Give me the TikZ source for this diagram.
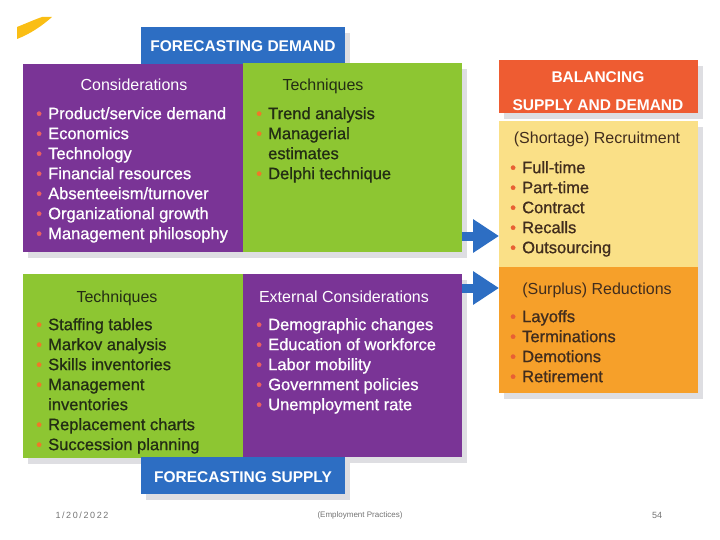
\documentclass[tikz,border=0pt]{standalone}
\usepackage{fontspec}
\setmainfont{Liberation Sans}
\newfontfamily\medfont{Liberation Sans}[FakeBold=0.9]
\usetikzlibrary{shadows,arrows.meta}
\definecolor{fcblue}{RGB}{45,110,195}
\definecolor{fcpurple}{RGB}{122,52,150}
\definecolor{fcgreen}{RGB}{141,198,50}
\definecolor{fcred}{RGB}{238,92,50}
\definecolor{fcyellow}{RGB}{250,224,135}
\definecolor{fcorange}{RGB}{246,160,42}
\definecolor{fcswoosh}{RGB}{250,190,20}
\definecolor{dotpink}{RGB}{232,95,100}
\definecolor{dotorange}{RGB}{240,120,40}
\definecolor{dotred}{RGB}{232,96,52}
\definecolor{darktext}{RGB}{35,45,20}
\definecolor{browntext}{RGB}{65,45,30}
\definecolor{footgray}{RGB}{115,115,115}
\definecolor{shade}{RGB}{222,222,226}
\newcommand{\pitm}{\makebox[12pt][l]{\textcolor{dotpink}{•}}}
\newcommand{\oitm}{\makebox[12pt][l]{\textcolor{dotorange}{•}}}
\newcommand{\ritm}{\makebox[12pt][l]{\textcolor{dotred}{•}}}
\newcommand{\cnt}{\hspace*{12pt}}
\begin{document}
\begin{tikzpicture}[x=1pt,y=-1pt,
  box/.style={rectangle,anchor=north west,outer sep=0pt,drop shadow={shadow xshift=5pt,shadow yshift=-6pt,fill=shade,opacity=1}},
  head/.style={anchor=base,font=\fontsize{16}{20}\selectfont},
  title/.style={anchor=base,text=white,font=\bfseries\fontsize{15.5}{20}\selectfont},
  items/.style={anchor=north west,align=left,font=\medfont\fontsize{16.5}{20}\selectfont},
  flow/.style={fcblue,line width=9pt,-{Triangle[length=26pt,width=32pt]}},
  foot/.style={text=footgray,font=\fontsize{8}{9}\selectfont}]
\tikzstyle{every node}+=[inner sep=0pt]
\useasboundingbox (0,0) rectangle (720,540);
\fill [fcswoosh] (17,27) .. controls (27,23) and (36,19) .. (42,17) -- (52,17) .. controls (42,26) and (30,34) .. (17,39) -- cycle;
\node [box,fill=fcblue,minimum width=204pt,minimum height=37pt] (demand) at (141,27) {};
\node [box,fill=fcpurple,minimum width=220pt,minimum height=188pt] (dcons) at (23,64) {};
\node [box,fill=fcgreen,minimum width=219pt,minimum height=189pt] (dtech) at (243,63) {};
\node [box,fill=fcgreen,minimum width=220pt,minimum height=184pt] (stech) at (23,274) {};
\node [box,fill=fcpurple,minimum width=219pt,minimum height=183pt] (sext) at (243,274) {};
\node [box,fill=fcblue,minimum width=204pt,minimum height=37pt] (supply) at (141,457) {};
\node [box,fill=fcred,minimum width=199pt,minimum height=53pt] (balance) at (499,60) {};
\node [box,fill=fcyellow,minimum width=199pt,minimum height=146pt] (recruit) at (499,121) {};
\node [box,fill=fcorange,minimum width=199pt,minimum height=126pt] (reduce) at (499,267) {};
\node [title] (demandtxt) at (243,51.5) {FORECASTING DEMAND};
\node [title] (supplytxt) at (243,482.5) {FORECASTING SUPPLY};
\node [title] (baltxt) at (598,82.5) {BALANCING};
\node [title] (baltxtb) at (598,110.5) {SUPPLY AND DEMAND};
\node [head,text=white] (dconshd) at (134,91) {Considerations};
\node [head,text=darktext] (dtechhd) at (323,91) {Techniques};
\node [head,text=browntext] (recruithd) at (597,144) {(Shortage) Recruitment};
\node [head,text=browntext] (reducehd) at (597,294) {(Surplus) Reductions};
\node [head,text=darktext] (stechhd) at (117,302) {Techniques};
\node [head,text=white] (sexthd) at (344,302) {External Considerations};
\node [items,text=white] (dconsls) at (36,107) {\pitm Product/service demand\\ \pitm Economics\\ \pitm Technology\\ \pitm Financial resources\\ \pitm Absenteeism/turnover\\ \pitm Organizational growth\\ \pitm Management philosophy};
\node [items,text=darktext] (dtechls) at (256,107) {\oitm Trend analysis\\ \oitm Managerial\\ \cnt estimates\\ \oitm Delphi technique};
\node [items,text=browntext] (recruitls) at (510,161) {\ritm Full-time\\ \ritm Part-time\\ \ritm Contract\\ \ritm Recalls\\ \ritm Outsourcing};
\node [items,text=browntext] (reducels) at (510,310) {\ritm Layoffs\\ \ritm Terminations\\ \ritm Demotions\\ \ritm Retirement};
\node [items,text=darktext] (stechls) at (36,318) {\oitm Staffing tables\\ \oitm Markov analysis\\ \oitm Skills inventories\\ \oitm Management\\ \cnt inventories\\ \oitm Replacement charts\\ \oitm Succession planning};
\node [items,text=white] (sextls) at (256,318) {\pitm Demographic changes\\ \pitm Education of workforce\\ \pitm Labor mobility\\ \pitm Government policies\\ \pitm Unemployment rate};
\coordinate (up) at (0,236);
\coordinate (down) at (0,288);
\draw [flow] (dtech.east |- up) -- (recruit.west |- up);
\draw [flow] (sext.east |- down) -- (reduce.west |- down);
\node [foot,font=\addfontfeatures{LetterSpace=18}\fontsize{9}{10}\selectfont] (date) at (82,515) {1/20/2022};
\node [foot] (topic) at (360,515) {(Employment Practices)};
\node [foot,font=\fontsize{9}{10}\selectfont] (page) at (657,515) {54};
\end{tikzpicture}
\end{document}
